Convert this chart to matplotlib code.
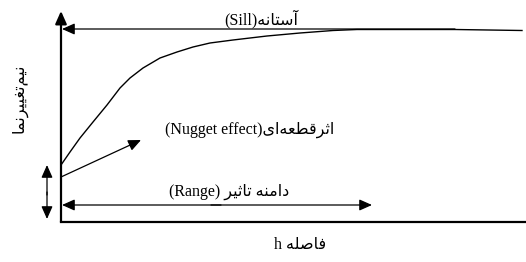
import matplotlib
matplotlib.use("Agg")
import matplotlib.pyplot as plt

# --- data (h and gamma in pixel-like units) ---
h = [0, 9, 19, 32, 46, 59, 69, 82, 99, 116, 132, 149, 172, 206, 239, 272, 296, 394, 461]
gamma = [57, 70, 84, 100, 117, 134, 144, 154, 164, 170, 175, 179, 182, 186, 189, 191.5, 192.5, 192.5, 191.5]

nugget = 45       # start of the nugget arrow on the y axis
sill = 193
sill_end = 394
rng = 311
nugget_tip = (80, 82)

title_sill = "آستانه"
label_nugget = "اثرقطعه\u200cای"
label_range = "دامنه تاثیر"
xlabel = "فاصله"
ylabel = "نیم\u200cتغییرنما"

# minimal Persian shaping (matplotlib does no complex text layout)
FORMS = {  # iso, fin, ini, med
    "ا": ("\uFE8D", "\uFE8E", None, None),
    "آ": ("\uFE81", "\uFE82", None, None),
    "د": ("\uFEA9", "\uFEAA", None, None),
    "ر": ("\uFEAD", "\uFEAE", None, None),
    "ت": ("\uFE95", "\uFE96", "\uFE97", "\uFE98"),
    "ث": ("\uFE99", "\uFE9A", "\uFE9B", "\uFE9C"),
    "س": ("\uFEB1", "\uFEB2", "\uFEB3", "\uFEB4"),
    "ص": ("\uFEB9", "\uFEBA", "\uFEBB", "\uFEBC"),
    "ط": ("\uFEC1", "\uFEC2", "\uFEC3", "\uFEC4"),
    "ع": ("\uFEC9", "\uFECA", "\uFECB", "\uFECC"),
    "غ": ("\uFECD", "\uFECE", "\uFECF", "\uFED0"),
    "ف": ("\uFED1", "\uFED2", "\uFED3", "\uFED4"),
    "ق": ("\uFED5", "\uFED6", "\uFED7", "\uFED8"),
    "ل": ("\uFEDD", "\uFEDE", "\uFEDF", "\uFEE0"),
    "م": ("\uFEE1", "\uFEE2", "\uFEE3", "\uFEE4"),
    "ن": ("\uFEE5", "\uFEE6", "\uFEE7", "\uFEE8"),
    "ه": ("\uFEE9", "\uFEEA", "\uFEEB", "\uFEEC"),
    "ی": ("\uFBFC", "\uFBFD", "\uFBFE", "\uFBFF"),
}


def dual(c):
    return c in FORMS and FORMS[c][2] is not None


def shape(s):
    out = []
    for i, c in enumerate(s):
        if c not in FORMS:
            if c != "\u200c":
                out.append(c)
            continue
        prev = s[i - 1] if i > 0 else ""
        nxt = s[i + 1] if i + 1 < len(s) else ""
        p = dual(prev)
        n = dual(c) and nxt in FORMS
        iso, fin, ini, med = FORMS[c]
        if p and n:
            out.append(med)
        elif p:
            out.append(fin)
        elif n:
            out.append(ini)
        else:
            out.append(iso)
    return "".join(out)[::-1]


plt.rcParams['font.family'] = ['Liberation Serif', 'DejaVu Sans']

fig = plt.figure(figsize=(5.26, 2.62), dpi=100)
ax = fig.add_axes([0, 0, 1, 1])
ax.set_xlim(-61, 465)
ax.set_ylim(-40, 222)
ax.axis('off')

arrow = dict(arrowstyle='-|>,head_length=0.45,head_width=0.2', color='black',
             lw=0.9, mutation_scale=17, shrinkA=0, shrinkB=0)

# axes
ax.plot([0, 465], [0, 0], color='black', lw=1.6)
ax.annotate('', xy=(0, 211), xytext=(0, 0),
            arrowprops=dict(arrowstyle='-|>,head_length=0.45,head_width=0.2',
                            color='black', lw=1.6, mutation_scale=17,
                            shrinkA=0, shrinkB=0))

# semivariogram curve
ax.plot(h, gamma, color='black', lw=1.0)

# sill
ax.annotate('', xy=(1, sill), xytext=(sill_end, sill), arrowprops=arrow)
ax.text(200, 203, "(Sill)" + shape(title_sill), ha='center', va='center',
        fontsize=11.5)

# nugget effect
ax.annotate('', xy=nugget_tip, xytext=(0, nugget), arrowprops=arrow)
ax.annotate('', xy=(-14, 57), xytext=(-14, 27), arrowprops=arrow)
ax.annotate('', xy=(-14, 3), xytext=(-14, 30), arrowprops=arrow)
ax.text(189, 92, "(Nugget effect)" + shape(label_nugget), ha='center',
        va='center', fontsize=11.5)

# range
ax.annotate('', xy=(1, 17), xytext=(160, 17), arrowprops=arrow)
ax.annotate('', xy=(rng, 17), xytext=(150, 17), arrowprops=arrow)
ax.text(168, 30, "(Range) " + shape(label_range), ha='center', va='center',
        fontsize=11.5)

# axis labels
ax.text(239, -23, "h " + shape(xlabel), ha='center', va='center', fontsize=11.5)
ax.text(-42, 124, shape(ylabel), ha='center', va='center', rotation=90,
        fontsize=11.5)

fig.savefig("out.png", dpi=100)
